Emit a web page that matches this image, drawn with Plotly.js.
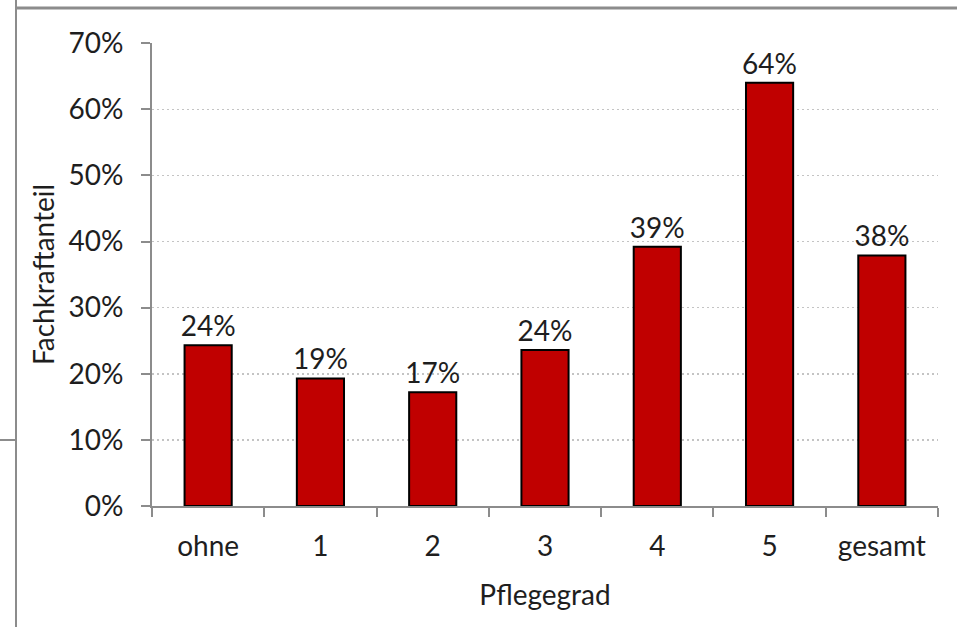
<!DOCTYPE html>
<html>
<head>
<meta charset="utf-8">
<script src="https://cdn.plot.ly/plotly-3.0.1.min.js"></script>
<style>
html,body{margin:0;padding:0;background:#fff;}
#chart{width:957px;height:627px;}
</style>
</head>
<body>
<div id="chart"></div>
<script>
const categories = ["ohne", "1", "2", "3", "4", "5", "gesamt"];
const values = [24.3, 19.3, 17.2, 23.6, 39.2, 64.0, 37.9];
const labels = ["24%", "19%", "17%", "24%", "39%", "64%", "38%"];
const yTickVals = [0, 10, 20, 30, 40, 50, 60, 70];
const yTickText = ["0%", "10%", "20%", "30%", "40%", "50%", "60%", "70%"];

const FONT = "Lato, 'Open Sans', sans-serif";
const TXT = "#1e1e1e";
const FS = 28;

const trace = {
  type: "bar",
  x: categories,
  y: values,
  text: labels,
  textposition: "outside",
  constraintext: "none",
  cliponaxis: false,
  textfont: {family: FONT, size: FS, color: TXT},
  marker: {color: "#C00000", line: {color: "#000000", width: 2}},
  width: 0.42,
  hoverinfo: "skip"
};

const L = 152, R = 19, T = 43, B = 121, W = 957, H = 627;
const pw = W - L - R, ph = H - T - B;
const px = v => (v - L) / pw;
const py = v => (H - B - v) / ph;

const layout = {
  width: W, height: H,
  margin: {l: L, r: R, t: T, b: B, pad: 0},
  paper_bgcolor: "#ffffff",
  plot_bgcolor: "#ffffff",
  showlegend: false,
  uniformtext: {mode: false},
  font: {family: FONT, size: FS, color: TXT},
  xaxis: {
    type: "category",
    showline: true, linecolor: "#8c8c8c", linewidth: 2,
    ticks: "outside", tickson: "boundaries", ticklen: 9, tickwidth: 2, tickcolor: "#8c8c8c",
    showgrid: false, zeroline: false,
    ticklabelstandoff: 14,
    tickfont: {family: FONT, size: FS, color: TXT},
    title: {text: "Pflegegrad", font: {family: FONT, size: FS, color: TXT}, standoff: 25}
  },
  yaxis: {
    range: [0, 70.02],
    tickvals: yTickVals, ticktext: yTickText,
    showline: true, linecolor: "#8c8c8c", linewidth: 2,
    ticks: "outside", ticklen: 9, tickwidth: 2, tickcolor: "#8c8c8c",
    showgrid: true, gridcolor: "#c4c4c4", gridwidth: 1.5, griddash: "2px,3px",
    zeroline: false,
    ticklabelstandoff: 12,
    tickfont: {family: FONT, size: FS, color: TXT},
    title: {text: "Fachkraftanteil", font: {family: FONT, size: FS, color: TXT}, standoff: 6}
  },
  shapes: [
    {type: "line", xref: "paper", yref: "paper", x0: px(16), x1: px(957), y0: py(8), y1: py(8), line: {color: "#8c8c8c", width: 3}},
    {type: "line", xref: "paper", yref: "paper", x0: px(16), x1: px(16), y0: py(0), y1: py(627), line: {color: "#8c8c8c", width: 2}},
    {type: "line", xref: "paper", yref: "paper", x0: px(0), x1: px(16), y0: py(440), y1: py(440), line: {color: "#8c8c8c", width: 2}}
  ]
};

Plotly.newPlot("chart", [trace], layout, {displayModeBar: false, staticPlot: true});
</script>
</body>
</html>
